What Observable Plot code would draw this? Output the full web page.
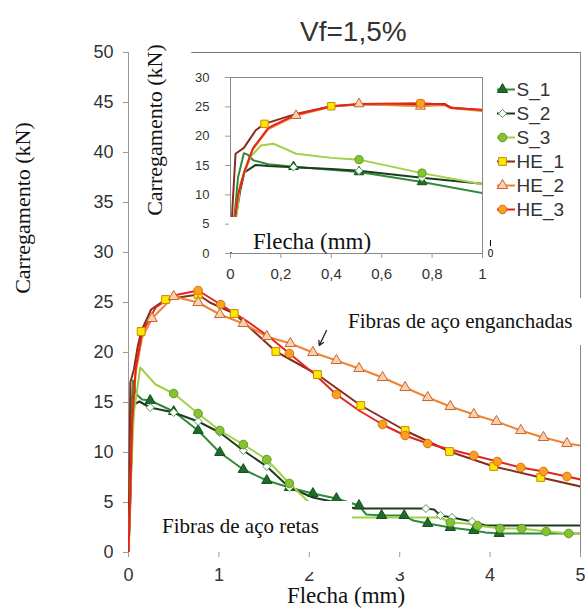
<!DOCTYPE html>
<html><head><meta charset="utf-8">
<script src="https://cdn.jsdelivr.net/npm/d3@7"></script>
<script src="https://cdn.jsdelivr.net/npm/@observablehq/plot@0.6"></script>
<style>
body{margin:0;background:#fff;}
#wrap{position:relative;width:585px;height:613px;overflow:hidden;background:#fff;}
.abs{position:absolute;}
</style></head><body><div id="wrap"></div>
<script>
// ---------- data ----------
const seriesNames = ["S_1","S_2","S_3","HE_1","HE_2","HE_3"];
const mainXTicks = [0,1,2,3,4,5];
const mainXTickLabels = ["0","1","2","3","4","5"];
const mainYTicks = [0,5,10,15,20,25,30,35,40,45,50];
const insetXTicks = [0,0.2,0.4,0.6,0.8,1];
const insetXTickLabels = ["0","0,2","0,4","0,6","0,8","1"];
const insetYTicks = [0,5,10,15,20,25,30];

// main chart: [flecha (mm), carregamento (kN), marker]
const s1Main = [[0,0],[0.02,6],[0.03,14],[0.05,17.2],[0.09,15.8],[0.15,15.3],[0.24,15.2,1],[0.5,14.1,1],[0.77,12.2,1],[1.01,10.0,1],[1.27,8.3,1],[1.53,7.2,1],[1.78,6.5,1],[2.04,5.9,1],[2.3,5.4,1],[2.55,4.7,1],[2.63,3.8],[2.8,3.7,1],[3.05,3.7,1],[3.15,3.2],[3.31,2.9,1],[3.56,2.5,1],[3.82,2.2,1],[3.95,2.0],[4.1,1.9,1],[5,1.9]];
const s2Main = [[0,0],[0.02,5],[0.04,12],[0.06,14.8],[0.12,15.1],[0.24,14.5,1],[0.5,14.0,1],[0.77,13.1,1],[1.01,12.0,1],[1.27,10.2,1],[1.53,8.6,1],[1.78,6.5,1],[2.04,5.5],[2.3,5.0],[2.5,4.4],[3.29,4.4,1],[3.38,4.3],[3.45,3.7,1],[3.58,3.5,1],[3.8,3.1,1],[3.95,2.7],[5,2.7]];
const s3Main = [[0,0],[0.03,8],[0.06,14],[0.13,18.5],[0.2,17.8],[0.3,16.8],[0.5,15.9,1],[0.77,13.9,1],[1.01,12.2,1],[1.27,10.8,1],[1.53,9.3,1],[1.78,6.9,1],[2.0,5.0],[2.3,3.6],[2.5,3.5],[3.45,3.5],[3.56,3.0,1],[3.73,2.9],[3.86,2.7,1],[4.11,2.4,1],[4.35,2.4,1],[4.62,2.1,1],[4.87,1.9,1],[5,1.9]];
const he1Main = [[0,0],[0.01,8],[0.02,17],[0.06,18.3],[0.1,20.5],[0.14,22.1,1],[0.25,24.3],[0.41,25.3,1],[0.77,25.8,1],[0.9,25.0],[1.17,23.9,1],[1.4,22.0],[1.63,20.1,1],[2.09,17.8,1],[2.57,14.7,1],[3.06,12.2,1],[3.55,10.1,1],[4.04,8.6,1],[4.56,7.5,1],[5,6.6]];
const he2Main = [[0,0],[0.02,6],[0.04,13],[0.08,18],[0.15,21.5],[0.26,23.4,1],[0.5,25.6,1],[0.77,25.0,1],[1.01,23.8,1],[1.27,22.9,1],[1.53,21.6,1],[1.79,20.9,1],[2.04,20.0,1],[2.3,19.2,1],[2.55,18.4,1],[2.81,17.5,1],[3.06,16.5,1],[3.31,15.5,1],[3.56,14.6,1],[3.82,13.8,1],[4.07,13.1,1],[4.34,12.2,1],[4.59,11.5,1],[4.85,10.9,1],[5,10.7]];
const he3Main = [[0,0],[0.02,6],[0.04,13],[0.08,18.5],[0.15,22],[0.3,24.5],[0.5,25.7],[0.77,26.2,1],[1.02,24.8,1],[1.3,23.2],[1.55,21.6],[1.78,19.9,1],[2.05,17.9],[2.3,15.8,1],[2.55,14.2],[2.81,12.8,1],[3.06,11.7,1],[3.31,10.9,1],[3.56,10.3],[3.82,9.7,1],[4.08,9.1,1],[4.34,8.5,1],[4.59,8.1,1],[4.85,7.6,1],[5,7.3]];

// inset chart (0–1 mm)
const s1Inset = [[0,0],[0.015,6],[0.03,13],[0.053,17.1],[0.07,16.8],[0.09,15.9],[0.15,15.2],[0.25,14.8,1],[0.51,13.9,1],[0.76,12.2,1],[1,10.3]];
const s2Inset = [[0,0],[0.02,6],[0.04,11],[0.055,13.8],[0.1,15.1],[0.15,14.9],[0.25,14.7,1],[0.4,14.4],[0.51,14.1,1],[0.76,12.9,1],[1,11.9]];
const s3Inset = [[0,0],[0.02,5],[0.04,12],[0.08,16.5],[0.12,18.4],[0.17,18.7],[0.22,17.8],[0.26,17.0],[0.4,16.3],[0.51,16.0,1],[0.76,13.7,1],[1,11.8]];
const he1Inset = [[0,0],[0.008,8],[0.02,17.0],[0.053,18.0],[0.1,21],[0.135,22.1,1],[0.26,23.8],[0.4,25.1,1],[0.51,25.4],[0.754,25.5,1],[0.85,25.5],[0.87,24.9],[1,24.4]];
const he2Inset = [[0,0],[0.015,5],[0.03,10],[0.053,13.6],[0.086,17.6],[0.15,21.2],[0.26,23.5,1],[0.4,25.0],[0.51,25.5,1],[0.754,25.1,1],[0.85,25.3],[0.87,24.8],[1,24.3]];
const he3Inset = [[0,0],[0.015,5],[0.03,10],[0.055,14],[0.09,18],[0.15,21.4],[0.26,23.7],[0.4,25.1],[0.51,25.5],[0.754,25.6,1],[0.85,25.4],[0.88,24.8],[1,24.5]];

// annotation arrow (data units of main chart)
const arrowData = [{x1: 2.19, y1: 22.2, x2: 2.11, y2: 20.7}];

// ---------- styles ----------
const styles = {
  S_1: {line:"#2e8b3a", symbol:"triangle", fill:"#1f6b2a", stroke:"#14501d", r:3.8},
  S_2: {line:"#1d3b1f", symbol:"diamond2", fill:"#ffffff", stroke:"#4e9a55", r:3.6},
  S_3: {line:"#a2cf45", symbol:"circle", fill:"#86c232", stroke:"#5f9a22", r:4.3},
  HE_1:{line:"#8a2c1a", symbol:"square", fill:"#ffe600", stroke:"#c88a00", r:4.4},
  HE_2:{line:"#f08232", symbol:"triangle", fill:"#f9cfae", stroke:"#c8642a", r:3.9},
  HE_3:{line:"#e3261b", symbol:"circle", fill:"#f8a020", stroke:"#e06a10", r:4.3}
};
const SANS = "'Liberation Sans', Arial, sans-serif";
const SERIF = "'Liberation Serif', 'Times New Roman', serif";

const toRows = arr => arr.map(([x, y, m]) => ({x, y, m: m === 1}));
function seriesMarks(list, scale) {
  const lines = [], dots = [];
  seriesNames.forEach((n, i) => {
    const st = styles[n], rows = toRows(list[i]);
    lines.push(Plot.line(rows, {x: "x", y: "y", stroke: st.line, strokeWidth: 2, clip: true}));
    dots.push(Plot.dot(rows.filter(d => d.m), {x: "x", y: "y", symbol: st.symbol, fill: st.fill, stroke: st.stroke, strokeWidth: 1, r: st.r * scale}));
  });
  return [...lines, ...dots];
}

const wrap = document.getElementById("wrap");
function place(el, left, top) {
  const d = document.createElement("div");
  d.className = "abs"; d.style.left = left + "px"; d.style.top = top + "px";
  d.appendChild(el); wrap.appendChild(d); return d;
}

// ---------- main chart ----------
const mainFmt = new Map(mainXTicks.map((t, i) => [t, mainXTickLabels[i]]));
const main = Plot.plot({
  width: 585, height: 613,
  marginTop: 52, marginRight: 5, marginBottom: 61, marginLeft: 128,
  x: {domain: [0, 5]}, y: {domain: [0, 50]},
  style: {background: "transparent", fontFamily: SANS, overflow: "visible"},
  marks: [
    Plot.axisY({ticks: mainYTicks, tickFormat: d => String(d), tickSize: 5, tickPadding: 10, fontSize: 18, stroke: "#999", fill: "#333", label: null}),
    Plot.axisX({ticks: mainXTicks, tickFormat: d => mainFmt.get(d), tickSize: 5, tickPadding: 11, fontSize: 18, stroke: "#999", fill: "#333", label: null}),
    Plot.ruleX([0], {stroke: "#999"}),
    Plot.ruleX([5], {stroke: "#888"}),
    Plot.ruleY([50], {x1: 0.7, x2: 5, stroke: "#777"}),
    ...seriesMarks([s1Main, s2Main, s3Main, he1Main, he2Main, he3Main], 1),
    Plot.arrow(arrowData, {x1: "x1", y1: "y1", x2: "x2", y2: "y2", stroke: "#222", strokeWidth: 1.3, headLength: 6})
  ]
});
place(main, 0, 0);

// ---------- inset chart ----------
const fmt = new Map(insetXTicks.map((t, i) => [t, insetXTickLabels[i]]));
const inset = Plot.plot({
  width: 444, height: 230,
  marginTop: 24, marginRight: 95, marginBottom: 30, marginLeft: 97,
  x: {domain: [0, 1]}, y: {domain: [0, 30]},
  style: {background: "white", fontFamily: SANS, overflow: "visible"},
  marks: [
    Plot.frame({stroke: "#888"}),
    Plot.axisY({ticks: insetYTicks, tickFormat: d => String(d), tickSize: 5, tickPadding: 16, fontSize: 13, stroke: "#999", fill: "#333", label: null}),
    Plot.axisX({ticks: insetXTicks, tickFormat: d => fmt.get(d), tickSize: 5, tickPadding: 10, fontSize: 15, stroke: "#999", fill: "#333", label: null}),
    ...seriesMarks([s1Inset, s2Inset, s3Inset, he1Inset, he2Inset, he3Inset], 0.95)
  ]
});
place(inset, 133, 53);

// ---------- legend ----------
const legendMarks = [];
seriesNames.forEach(n => {
  const st = styles[n];
  legendMarks.push(Plot.ruleY([n], {y: d => d, x1: 7, x2: 25, stroke: st.line, strokeWidth: 2}));
  legendMarks.push(Plot.dot([n], {x: 12, y: d => d, symbol: st.symbol, fill: st.fill, stroke: st.stroke, strokeWidth: 1, r: st.r}));
  legendMarks.push(Plot.text([n], {x: 26, y: d => d, text: d => d, textAnchor: "start", fontSize: 19, fill: "#333"}));
});
const legend = Plot.plot({
  width: 92, height: 180, margin: 0,
  x: {type: "identity"},
  y: {type: "point", domain: seriesNames, range: [15, 163], axis: null},
  style: {background: "transparent", fontFamily: SANS, overflow: "visible"},
  marks: legendMarks
});
place(legend, 490, 60);

// ---------- overlay texts & boxes ----------
const ov = d3.create("svg").attr("width", 585).attr("height", 613)
  .style("position", "absolute").style("left", "0px").style("top", "0px");
ov.append("rect").attr("x", 229).attr("y", 217).attr("width", 171).attr("height", 35).attr("fill", "#fff");
ov.append("rect").attr("x", 343).attr("y", 298).attr("width", 245).attr("height", 47).attr("fill", "#fff");
ov.append("rect").attr("x", 139).attr("y", 501).attr("width", 213).attr("height", 51).attr("fill", "#fff");
ov.append("rect").attr("x", 292).attr("y", 559).attr("width", 125).attr("height", 13).attr("fill", "#fff");
ov.append("text").attr("x", 300).attr("y", 41).attr("font-family", SANS).attr("font-size", 28).attr("fill", "#333").text("Vf=1,5%");
ov.append("text").attr("transform", "translate(22,208) rotate(-90)").attr("text-anchor", "middle").attr("dominant-baseline", "central")
  .attr("font-family", SERIF).attr("font-size", 22).attr("fill", "#111").text("Carregamento (kN)");
ov.append("text").attr("transform", "translate(154,130) rotate(-90)").attr("text-anchor", "middle").attr("dominant-baseline", "central")
  .attr("font-family", SERIF).attr("font-size", 22).attr("fill", "#111").text("Carregamento (kN)");
ov.append("text").attr("x", 253).attr("y", 249).attr("font-family", SERIF).attr("font-size", 23).attr("fill", "#111").text("Flecha (mm)");
ov.append("text").attr("x", 346).attr("y", 603).attr("text-anchor", "middle").attr("font-family", SERIF).attr("font-size", 23).attr("fill", "#111").text("Flecha (mm)");
ov.append("text").attr("x", 348).attr("y", 328).attr("font-family", SERIF).attr("font-size", 21).attr("fill", "#111").text("Fibras de aço enganchadas");
ov.append("text").attr("x", 162).attr("y", 533).attr("font-family", SERIF).attr("font-size", 21).attr("fill", "#111").text("Fibras de aço retas");
wrap.appendChild(ov.node());
</script>
</body></html>
